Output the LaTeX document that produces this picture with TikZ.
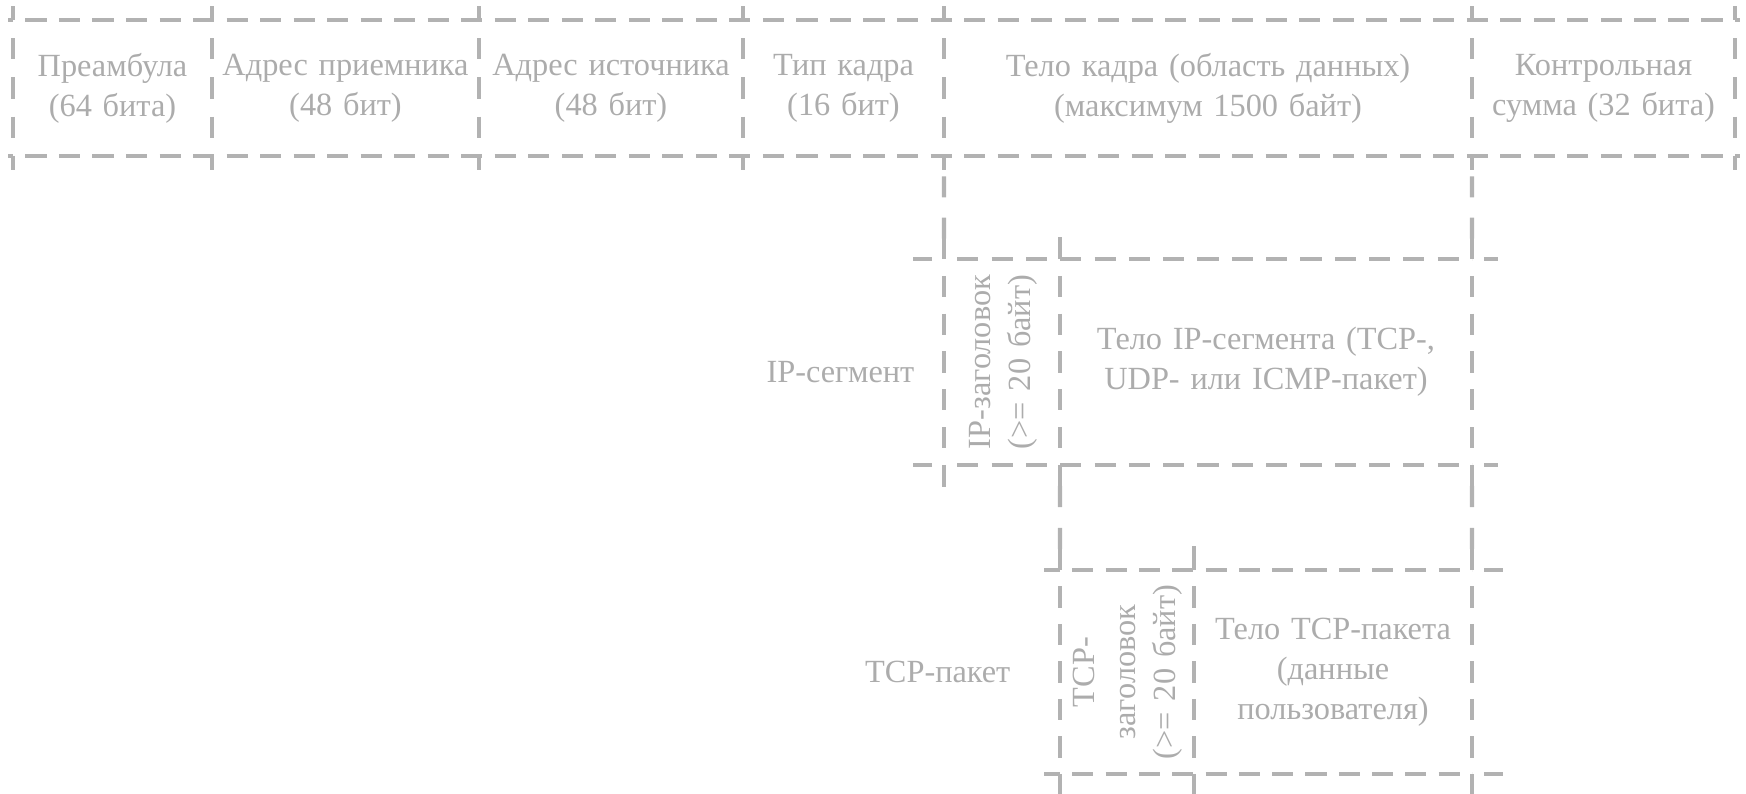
\documentclass[tikz,border=0pt]{standalone}
\usepackage{fontspec}
\setmainfont{Liberation Serif}
\usetikzlibrary{positioning, decorations}

\definecolor{linegray}{RGB}{178,178,178}
\definecolor{textgray}{RGB}{172,172,172}
\newcommand{\vlabel}[1]{\rotatebox{90}{\begin{tabular}{@{}c@{}}#1\end{tabular}}}

\begin{document}
\begin{tikzpicture}[x=0.1mm, y=-0.1mm,
	cell/.style={inner sep=0pt, outer sep=0pt, minimum height=13.6mm, align=center, text=textgray, font=\fontsize{9.2}{11.4}\selectfont},
	tag/.style={inner sep=0pt, text=textgray, font=\fontsize{9.2}{11.4}\selectfont},
	frame/.style={draw=linegray, line width=1.2pt, dash pattern=on 6pt off 3.4pt, dash expand off},
	tick/.style={draw=linegray, line width=1.2pt},
	gaptick/.style={draw=linegray, line width=1.2pt, dash pattern=on 8pt off 3.4pt, dash phase=8pt}]
	\useasboundingbox (0,0) rectangle (1746,794);

	% Ethernet frame
	\node[cell, text width=19.9mm, anchor=north west] (preamble_node) at (13,20) {Преамбула\\(64 бита)};
	\node[cell, text width=26.7mm, right=0pt of preamble_node] (dst_node) {Адрес приемника\\(48 бит)};
	\node[cell, text width=26.4mm, right=0pt of dst_node] (src_node) {Адрес источника\\(48 бит)};
	\node[cell, text width=20.1mm, right=0pt of src_node] (type_node) {Тип кадра\\(16 бит)};
	\node[cell, text width=52.8mm, right=0pt of type_node] (body_node) {Тело кадра (область данных)\\(максимум 1500 байт)};
	\node[cell, text width=26.3mm, right=0pt of body_node] (crc_node) {Контрольная\\сумма (32 бита)};

	\foreach \a in {north, south} {
		\draw[frame] (preamble_node.\a\space west) -- (dst_node.\a\space west) -- (src_node.\a\space west)
			-- (type_node.\a\space west) -- (body_node.\a\space west) -- (crc_node.\a\space west) -- (crc_node.\a\space east);
		\draw[tick] (preamble_node.\a\space west) -- ++(-5,0);
		\draw[tick] (crc_node.\a\space east) -- ++(5,0);
	}
	\foreach \n in {preamble_node, dst_node, src_node, type_node, body_node, crc_node} {
		\draw[frame] (\n.north west) -- (\n.south west);
		\draw[tick] (\n.north west) -- ++(0,-14);
		\draw[tick] (\n.south west) -- ++(0,14);
	}
	\draw[frame] (crc_node.north east) -- (crc_node.south east);
	\draw[tick] (crc_node.north east) -- ++(0,-14);
	\draw[tick] (crc_node.south east) -- ++(0,14);

	% IP segment
	\node[cell, text width=11.6mm, minimum height=20.6mm, anchor=north west] (ip_head) at (944,259) {\vlabel{IP-заголовок\\(>= 20 байт)}};
	\node[cell, text width=41.2mm, minimum height=20.6mm, right=0pt of ip_head] (ip_body) {Тело IP-сегмента (TCP-,\\UDP- или ICMP-пакет)};
	\node[tag, left=2.9mm of ip_head, yshift=-1mm] (ip_label) {IP-сегмент};

	\foreach \a in {north, south} {
		\draw[frame] (ip_head.\a\space west) -- (ip_body.\a\space west) -- (ip_body.\a\space east);
		\draw[gaptick] (ip_head.\a\space west) -- ++(-31,0);
		\draw[gaptick] (ip_body.\a\space east) -- ++(26,0);
	}
	\foreach \p in {ip_head.north west, ip_body.north west, ip_body.north east} \draw[tick] (\p) -- ++(0,-22);
	\foreach \p in {ip_head.south west, ip_body.south west, ip_body.south east} \draw[tick] (\p) -- ++(0,22);
	\draw[frame] (ip_head.north west) -- (ip_head.south west);
	\draw[frame] (ip_body.north west) -- (ip_body.south west);
	\draw[frame] (ip_body.north east) -- (ip_body.south east);

	% TCP packet
	\node[cell, text width=13.4mm, minimum height=20.4mm, anchor=north west] (tcp_head) at (1060,570) {\vlabel{TCP-\\заголовок\\(>= 20 байт)}};
	\node[cell, text width=27.8mm, minimum height=20.4mm, right=0pt of tcp_head] (tcp_body) {Тело TCP-пакета\\(данные\\пользователя)};
	\node[tag, left=4.9mm of tcp_head] (tcp_label) {TCP-пакет};

	\foreach \a in {north, south} {
		\draw[frame] (tcp_head.\a\space west) -- (tcp_body.\a\space west) -- (tcp_body.\a\space east);
		\draw[tick] (tcp_head.\a\space west) -- ++(-16,0);
		\draw[gaptick] (tcp_body.\a\space east) -- ++(31,0);
	}
	\foreach \p in {tcp_head.north west, tcp_body.north west, tcp_body.north east} \draw[tick] (\p) -- ++(0,-24);
	\foreach \p in {tcp_head.south west, tcp_body.south west, tcp_body.south east} \draw[tick] (\p) -- ++(0,20);
	\draw[frame] (tcp_head.north west) -- (tcp_head.south west);
	\draw[frame] (tcp_body.north west) -- (tcp_body.south west);
	\draw[frame] (tcp_body.north east) -- (tcp_body.south east);

	% links between levels
	\draw[frame] (body_node.south west) -- (ip_head.north west);
	\draw[frame] (body_node.south east) -- (ip_body.north east);
	\draw[frame] (ip_head.south east) -- (tcp_head.north west);
	\draw[frame] (ip_body.south east) -- (tcp_body.north east);
\end{tikzpicture}
\end{document}
